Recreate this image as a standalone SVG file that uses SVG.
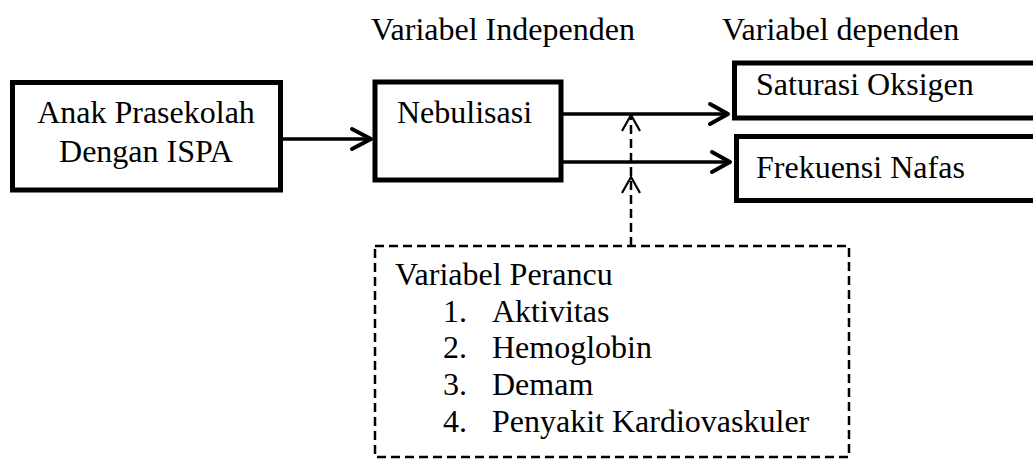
<svg xmlns="http://www.w3.org/2000/svg" width="1033" height="461" viewBox="0 0 1033 461">
<style>
text{font-family:"Liberation Serif","Times New Roman",serif;font-size:32px;fill:#000}
.box{fill:#fff;stroke:#000;stroke-width:5}
.ln{fill:none;stroke:#000;stroke-width:3.5}
.hd{fill:none;stroke:#000;stroke-width:4;stroke-linecap:round;stroke-linejoin:round}
.dash{fill:none;stroke:#000;stroke-width:2.5;stroke-dasharray:9 5}
.dhd{fill:none;stroke:#000;stroke-width:2.2}
</style>
<rect width="1033" height="461" fill="#fff"/>
<g id="labels">
<text x="371" y="40">Variabel Independen</text>
<text x="722" y="40">Variabel dependen</text>
</g>
<g id="node-anak">
<rect class="box" x="12.5" y="82.5" width="268" height="107.5"/>
<text x="146" y="123" text-anchor="middle">Anak Prasekolah</text>
<text x="146" y="162" text-anchor="middle">Dengan ISPA</text>
</g>
<g id="node-nebulisasi">
<rect class="box" x="375" y="82" width="186" height="98"/>
<text x="397" y="123">Nebulisasi</text>
</g>
<g id="node-saturasi">
<rect class="box" x="734.5" y="63" width="310" height="55"/>
<text x="756" y="95">Saturasi Oksigen</text>
</g>
<g id="node-frekuensi">
<rect class="box" x="736.5" y="136.5" width="310" height="64"/>
<text x="756" y="178">Frekuensi Nafas</text>
</g>
<g id="node-perancu">
<rect class="dash" x="375" y="246" width="474" height="211"/>
<text x="395" y="285">Variabel Perancu</text>
<text x="443" y="322">1.</text><text x="492" y="322">Aktivitas</text>
<text x="443" y="358">2.</text><text x="492" y="358">Hemoglobin</text>
<text x="443" y="395">3.</text><text x="492" y="395">Demam</text>
<text x="443" y="432">4.</text><text x="492" y="432">Penyakit Kardiovaskuler</text>
</g>
<g id="connectors">
<line class="ln" x1="283" y1="139" x2="371" y2="139"/>
<polyline class="hd" points="352,129 371,139 352,149"/>
<line class="ln" x1="563" y1="114" x2="728" y2="114"/>
<polyline class="hd" points="710,104 728,114 710,124"/>
<line class="ln" x1="563" y1="162" x2="730" y2="162"/>
<polyline class="hd" points="712,152 730,162 712,172"/>
<line class="dash" x1="631" y1="246" x2="631" y2="115"/>
<polyline class="dhd" points="622,131 631,115 640,131"/>
<polyline class="dhd" points="622,193 631,177 640,193"/>
</g>
</svg>
